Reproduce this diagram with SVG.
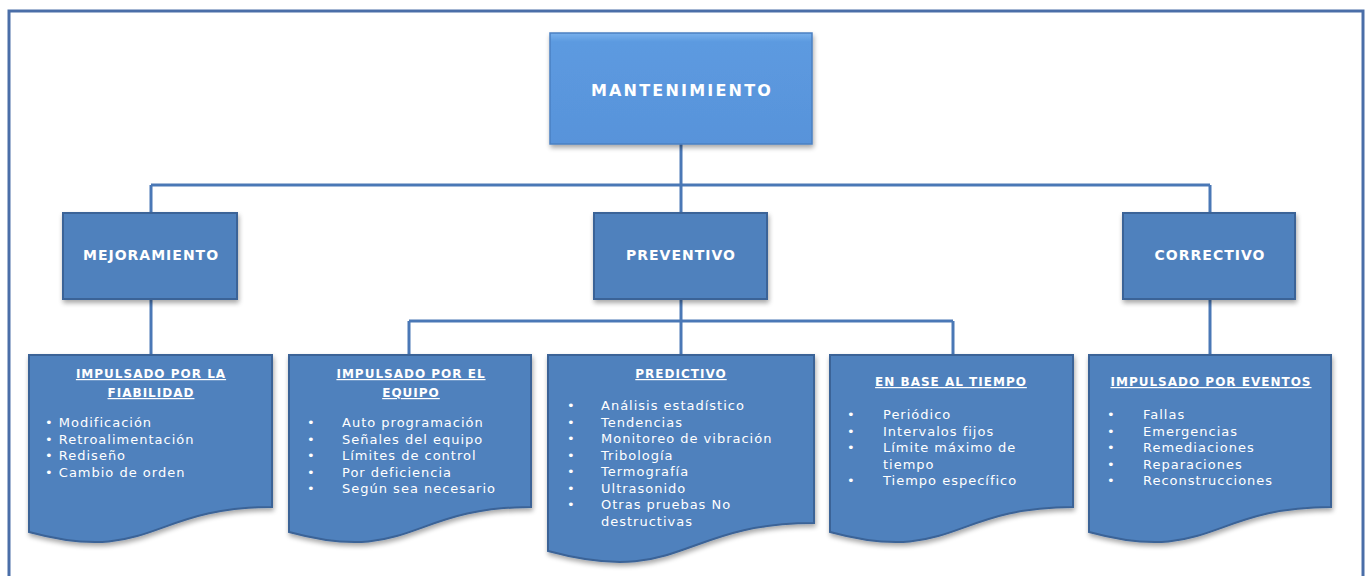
<svg xmlns="http://www.w3.org/2000/svg" width="1368" height="576" viewBox="0 0 1368 576">
<defs>
<filter id="sh" x="-10%" y="-10%" width="130%" height="130%">
<feGaussianBlur in="SourceAlpha" stdDeviation="2.5"/>
<feOffset dx="1" dy="3" result="b"/>
<feComponentTransfer><feFuncA type="linear" slope="0.35"/></feComponentTransfer>
<feMerge><feMergeNode/><feMergeNode in="SourceGraphic"/></feMerge>
</filter>
<linearGradient id="gtop" x1="0" y1="0" x2="0" y2="1">
<stop offset="0" stop-color="#78b0ec"/>
<stop offset="0.08" stop-color="#5c9ae0"/>
<stop offset="1" stop-color="#5893da"/>
</linearGradient>
</defs>
<style>
.frame{fill:none;stroke:#4a6ea8;stroke-width:3}
.conn{fill:none;stroke:#4a78b6;stroke-width:3}
.box{fill:#4f81bd;stroke:#3b6397;stroke-width:2;filter:url(#sh)}
.top{fill:url(#gtop);stroke:#4b80c2;stroke-width:1.5;filter:url(#sh)}
.doc{fill:#4f81bd;stroke:#3b6397;stroke-width:2;filter:url(#sh)}
.h{font-family:"DejaVu Sans","Liberation Sans",sans-serif;font-weight:bold;fill:#ffffff;text-anchor:middle}
.t{font-family:"DejaVu Sans","Liberation Sans",sans-serif;font-size:12px;font-weight:bold;fill:#ffffff;text-anchor:middle;text-decoration:underline;letter-spacing:1px}
.i{font-family:"DejaVu Sans","Liberation Sans",sans-serif;font-size:13px;fill:#ffffff;letter-spacing:1px}
</style>
<rect class="frame" x="9" y="11" width="1354" height="600"/>
<g id="connectors">
<path class="conn" d="M681,144 V185 M151,185 H1210 M151,185 V213 M681,185 V213 M1210,185 V213"/>
<path class="conn" d="M151,299 V355 M681,299 V321 M409,321 H953 M409,321 V355 M681,321 V355 M953,321 V355 M1210,299 V355"/>
</g>
<g id="mantenimiento">
<rect class="top" x="550" y="33" width="262" height="111"/>
<text class="h" x="682" y="96" font-size="16" letter-spacing="2.2">MANTENIMIENTO</text>
</g>
<g id="mejoramiento">
<rect class="box" x="63" y="213" width="174" height="86"/>
<text class="h" x="151" y="260" font-size="14" letter-spacing="1">MEJORAMIENTO</text>
</g>
<g id="preventivo">
<rect class="box" x="594" y="213" width="173" height="86"/>
<text class="h" x="681" y="260" font-size="14" letter-spacing="1">PREVENTIVO</text>
</g>
<g id="correctivo">
<rect class="box" x="1123" y="213" width="172" height="86"/>
<text class="h" x="1210" y="260" font-size="14" letter-spacing="1">CORRECTIVO</text>
</g>
<g id="fiabilidad">
<path class="doc" d="M29,355 H272 V507 C150.5,507 150.5,565 29,532 Z"/>
<text class="t" x="151" y="378">IMPULSADO POR LA</text>
<text class="t" x="151" y="397">FIABILIDAD</text>
<text class="i" y="427"><tspan x="45">• Modificación</tspan><tspan x="45" dy="16.5">• Retroalimentación</tspan><tspan x="45" dy="16.5">• Rediseño</tspan><tspan x="45" dy="16.5">• Cambio de orden</tspan></text>
</g>
<g id="equipo">
<path class="doc" d="M289,355 H531 V507 C410,507 410,565 289,532 Z"/>
<text class="t" x="411" y="378">IMPULSADO POR EL</text>
<text class="t" x="411" y="397">EQUIPO</text>
<text class="i" y="427"><tspan x="307">•</tspan><tspan x="342">Auto programación</tspan><tspan x="307" dy="16.5">•</tspan><tspan x="342">Señales del equipo</tspan><tspan x="307" dy="16.5">•</tspan><tspan x="342">Límites de control</tspan><tspan x="307" dy="16.5">•</tspan><tspan x="342">Por deficiencia</tspan><tspan x="307" dy="16.5">•</tspan><tspan x="342">Según sea necesario</tspan></text>
</g>
<g id="predictivo">
<path class="doc" d="M548,355 H814 V523 C681,523 681,587 548,551 Z"/>
<text class="t" x="681" y="378">PREDICTIVO</text>
<text class="i" y="410"><tspan x="567">•</tspan><tspan x="601">Análisis estadístico</tspan><tspan x="567" dy="16.5">•</tspan><tspan x="601">Tendencias</tspan><tspan x="567" dy="16.5">•</tspan><tspan x="601">Monitoreo de vibración</tspan><tspan x="567" dy="16.5">•</tspan><tspan x="601">Tribología</tspan><tspan x="567" dy="16.5">•</tspan><tspan x="601">Termografía</tspan><tspan x="567" dy="16.5">•</tspan><tspan x="601">Ultrasonido</tspan><tspan x="567" dy="16.5">•</tspan><tspan x="601">Otras pruebas No</tspan><tspan x="601" dy="16.5">destructivas</tspan></text>
</g>
<g id="tiempo">
<path class="doc" d="M830,355 H1073 V507 C951.5,507 951.5,565 830,532 Z"/>
<text class="t" x="951" y="386">EN BASE AL TIEMPO</text>
<text class="i" y="419"><tspan x="847">•</tspan><tspan x="883">Periódico</tspan><tspan x="847" dy="16.5">•</tspan><tspan x="883">Intervalos fijos</tspan><tspan x="847" dy="16.5">•</tspan><tspan x="883">Límite máximo de</tspan><tspan x="883" dy="16.5">tiempo</tspan><tspan x="847" dy="16.5">•</tspan><tspan x="883">Tiempo específico</tspan></text>
</g>
<g id="eventos">
<path class="doc" d="M1089,355 H1331 V507 C1210,507 1210,565 1089,532 Z"/>
<text class="t" x="1211" y="386">IMPULSADO POR EVENTOS</text>
<text class="i" y="419"><tspan x="1107">•</tspan><tspan x="1143">Fallas</tspan><tspan x="1107" dy="16.5">•</tspan><tspan x="1143">Emergencias</tspan><tspan x="1107" dy="16.5">•</tspan><tspan x="1143">Remediaciones</tspan><tspan x="1107" dy="16.5">•</tspan><tspan x="1143">Reparaciones</tspan><tspan x="1107" dy="16.5">•</tspan><tspan x="1143">Reconstrucciones</tspan></text>
</g>
</svg>
